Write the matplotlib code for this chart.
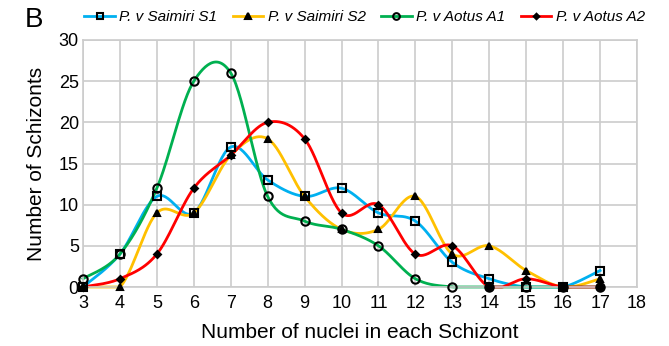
import numpy as np
import matplotlib
matplotlib.use("Agg")
from matplotlib import pyplot as plt

plt.rcParams['font.family'] = ['Liberation Sans', 'DejaVu Sans']

nuclei = [3, 4, 5, 6, 7, 8, 9, 10, 11, 12, 13, 14, 15, 16, 17]
saimiri_s1 = [0, 4, 11, 9, 17, 13, 11, 12, 9, 8, 3, 1, 0, 0, 2]
saimiri_s2 = [0, 0, 9, 9, 16, 18, 11, 7, 7, 11, 4, 5, 2, 0, 1]
aotus_a1 = [1, 4, 12, 25, 26, 11, 8, 7, 5, 1, 0, 0, 0, 0, 0]
aotus_a2 = [0, 1, 4, 12, 16, 20, 18, 9, 10, 4, 5, 0, 1, 0, 0]


def smooth(x, y, n=30):
    # Excel-like smoothed line: cubic bezier with catmull-rom control points
    x = np.asarray(x, float)
    y = np.asarray(y, float)
    xs, ys = [], []
    t = np.linspace(0, 1, n)
    for i in range(len(x) - 1):
        p0 = np.array([x[max(i - 1, 0)], y[max(i - 1, 0)]])
        p1 = np.array([x[i], y[i]])
        p2 = np.array([x[i + 1], y[i + 1]])
        p3 = np.array([x[min(i + 2, len(x) - 1)], y[min(i + 2, len(x) - 1)]])
        c1 = p1 + (p2 - p0) / 6
        c2 = p2 - (p3 - p1) / 6
        pts = ((1 - t) ** 3)[:, None] * p1 + (3 * (1 - t) ** 2 * t)[:, None] * c1 \
            + (3 * (1 - t) * t ** 2)[:, None] * c2 + (t ** 3)[:, None] * p2
        xs.extend(pts[:, 0])
        ys.extend(pts[:, 1])
    return xs, ys


series = [
    ("P. v Saimiri S1", saimiri_s1, "#00B0F0", "s", "none", 6),
    ("P. v Saimiri S2", saimiri_s2, "#FFC000", "^", "black", 5),
    ("P. v Aotus A1", aotus_a1, "#00B050", "o", "none", 6),
    ("P. v Aotus A2", aotus_a2, "#FF0000", "D", "black", 3.5),
]

fig = plt.figure(figsize=(6.69, 3.46), dpi=100)
ax = fig.add_axes([83 / 669, 1 - 287 / 346, (637 - 83) / 669, (287 - 40) / 346])

handles = []
for name, vals, col, mk, mfc, ms in series:
    sx, sy = smooth(nuclei, vals)
    # keep the curve itself inside the plot, like the original
    sy = np.clip(sy, 0, None)
    ax.plot(sx, sy, color=col, lw=2, zorder=2, clip_on=False)
    ax.plot(nuclei, vals, ls="none", marker=mk, ms=ms, mfc=mfc, mec="black",
            mew=1.5, zorder=3, clip_on=False)
    h, = ax.plot([], [], color=col, lw=2, marker=mk, ms=ms * 0.8, mfc=mfc,
                 mec="black", mew=1.5)
    handles.append(h)

ax.set_xlim(3, 18)
ax.set_ylim(0, 30)
ax.set_xticks(range(3, 19))
ax.set_yticks(range(0, 31, 5))
ax.grid(True, color="#CCCCCC", lw=1.2)
ax.set_axisbelow(True)
for s in ax.spines.values():
    s.set_color("#CCCCCC")
    s.set_linewidth(1.2)
ax.tick_params(axis="x", length=0, labelsize=13, pad=6)
ax.tick_params(axis="y", length=0, labelsize=13, pad=3)
ax.set_xlabel("Number of nuclei in each Schizont", fontsize=15, labelpad=8)
ax.set_ylabel("Number of Schizonts", fontsize=15, labelpad=9)

fig.legend(handles, [s[0] for s in series], loc="center", ncol=4,
           bbox_to_anchor=(0.545, 1 - 17 / 346), frameon=False,
           prop={"style": "italic", "size": 11}, handlelength=2,
           handletextpad=0.3, columnspacing=1.0)
fig.text(25 / 669, 1 - 20 / 346, "B", fontsize=20, ha="left", va="center")

fig.savefig("out.png", dpi=100)
